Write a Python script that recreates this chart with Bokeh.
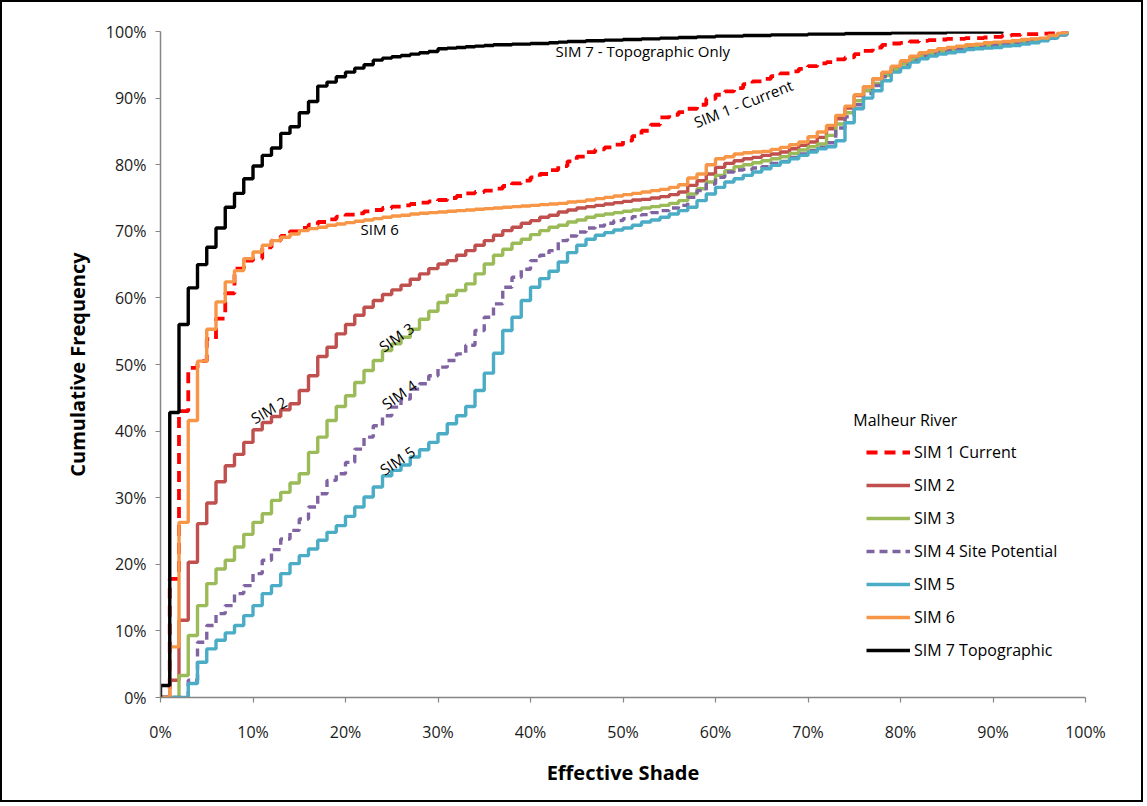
from bokeh.plotting import figure
from bokeh.models import Legend, LegendItem, Label, FixedTicker, Range1d
from bokeh.embed import file_html
from bokeh.resources import INLINE

# ---------------- data (effective shade in %, cumulative frequency in %) ----------------
shade_steps = list(range(0, 99))  # step positions 0%..98%

sim1_current = [0, 17.8, 43.0, 49.5, 50.5, 53.8, 56.9, 60.7, 64.4, 65.6,
                65.9, 67.6, 68.6, 69.3, 70.0, 70.5, 71.0, 71.4, 71.8, 72.2,
                72.5, 72.7, 73.0, 73.2, 73.5, 73.7, 73.9, 74.1, 74.3, 74.5,
                74.7, 75.0, 75.3, 75.7, 75.9, 76.1, 76.4, 76.8, 77.2, 77.6,
                78.1, 78.6, 79.2, 79.8, 80.5, 81.2, 81.9, 82.3, 82.6, 83.0,
                83.6, 84.3, 85.1, 86.0, 87.1, 87.5, 87.9, 88.4, 89.0, 89.9,
                90.5, 91.0, 91.5, 92.1, 92.5, 92.9, 93.3, 93.7, 94.0, 94.4,
                94.8, 95.2, 95.4, 95.8, 96.1, 96.6, 97.1, 97.6, 98.0, 98.2,
                98.3, 98.5, 98.6, 98.7, 98.8, 98.9, 98.9, 99.0, 99.0, 99.1,
                99.2, 99.4, 99.5, 99.6, 99.6, 99.7, 99.8, 99.9, 100]

sim2 = [0, 2.6, 11.6, 20.3, 26.1, 29.2, 32.4, 34.8, 36.5, 38.3,
        40.2, 41.3, 42.2, 43.2, 44.1, 46.1, 48.3, 51.2, 52.6, 54.6,
        56.0, 57.4, 58.6, 59.6, 60.5, 61.2, 61.9, 62.8, 63.6, 64.4,
        65.1, 65.6, 66.4, 67.1, 67.9, 68.6, 69.4, 70.1, 70.6, 71.2,
        71.6, 72.1, 72.4, 72.9, 73.2, 73.5, 73.7, 73.9, 74.1, 74.3,
        74.5, 74.7, 74.8, 75.0, 75.2, 75.5, 75.9, 76.9, 77.6, 78.6,
        79.6, 80.2, 80.6, 80.9, 81.1, 81.4, 81.6, 81.9, 82.4, 82.9,
        83.4, 84.1, 85.4, 86.9, 88.5, 90.4, 91.7, 92.9, 93.8, 94.6,
        95.4, 96.1, 96.6, 96.9, 97.2, 97.4, 97.6, 97.8, 97.9, 98.1,
        98.2, 98.3, 98.5, 98.6, 98.8, 98.9, 99.2, 99.6, 100]

sim3 = [0, 0, 3.3, 9.3, 13.8, 17.1, 19.3, 20.6, 22.6, 24.5,
        26.3, 27.6, 29.6, 30.8, 32.2, 33.6, 36.8, 39.1, 41.6, 43.7,
        45.3, 47.3, 49.1, 50.6, 52.1, 53.1, 54.1, 55.3, 56.8, 58.0,
        59.3, 60.4, 61.1, 62.1, 63.6, 65.1, 66.4, 67.3, 68.2, 68.8,
        69.5, 70.1, 70.6, 70.9, 71.4, 71.7, 72.1, 72.4, 72.6, 72.8,
        73.0, 73.2, 73.5, 73.7, 73.9, 74.2, 74.6, 75.6, 76.4, 77.4,
        78.4, 79.1, 79.7, 80.0, 80.3, 80.6, 80.9, 81.2, 81.7, 82.2,
        82.7, 83.1, 84.4, 86.1, 87.8, 89.6, 91.1, 92.2, 93.4, 94.3,
        95.1, 95.8, 96.3, 96.7, 97.0, 97.2, 97.4, 97.6, 97.7, 97.9,
        98.0, 98.2, 98.3, 98.5, 98.6, 98.8, 99.1, 99.5, 100]

sim4_site_potential = [0, 0, 0, 2.6, 8.3, 10.8, 12.6, 13.8, 15.6, 16.8,
                       18.6, 20.6, 22.2, 23.8, 25.1, 26.8, 28.6, 30.6, 32.6, 33.6,
                       35.3, 37.3, 39.1, 40.8, 42.3, 43.6, 44.8, 46.3, 47.1, 48.3,
                       49.6, 50.6, 51.6, 52.9, 55.1, 57.1, 59.1, 61.6, 63.1, 64.3,
                       65.6, 66.4, 67.1, 68.6, 69.3, 69.9, 70.5, 70.8, 71.2, 71.6,
                       71.9, 72.2, 72.5, 72.8, 73.1, 73.5, 73.9, 75.1, 76.1, 77.1,
                       78.1, 78.9, 79.2, 79.3, 79.5, 79.7, 80.2, 80.5, 81.1, 81.6,
                       82.1, 82.6, 83.3, 85.5, 87.2, 89.0, 90.7, 91.9, 93.2, 94.1,
                       94.9, 95.6, 96.2, 96.6, 96.9, 97.1, 97.3, 97.4, 97.6, 97.8,
                       97.9, 98.1, 98.2, 98.4, 98.5, 98.7, 99.0, 99.5, 100]

sim5 = [0, 0, 0, 2.1, 5.3, 7.3, 8.6, 9.7, 10.8, 12.3,
        13.8, 15.6, 16.8, 18.6, 20.1, 21.3, 22.3, 23.6, 24.8, 25.8,
        27.2, 28.6, 30.1, 31.6, 33.3, 34.1, 34.9, 36.1, 37.2, 38.3,
        39.6, 41.1, 42.3, 43.7, 46.1, 48.7, 51.7, 55.1, 57.1, 59.6,
        61.6, 62.9, 64.0, 65.4, 66.8, 67.9, 68.8, 69.4, 69.8, 70.2,
        70.5, 70.9, 71.4, 71.7, 72.1, 72.6, 73.1, 73.6, 74.6, 75.6,
        76.6, 77.4, 77.9, 78.4, 78.9, 79.4, 79.9, 80.4, 80.9, 81.4,
        81.9, 82.4, 82.7, 83.6, 86.3, 88.4, 90.0, 91.1, 92.6, 93.9,
        94.6, 95.4, 95.9, 96.3, 96.6, 96.8, 97.0, 97.3, 97.4, 97.5,
        97.6, 97.8, 97.9, 98.1, 98.3, 98.6, 99.0, 99.5, 100]

sim6 = [0, 7.6, 26.3, 41.6, 50.5, 55.3, 59.4, 62.4, 64.1, 65.9,
        66.9, 67.9, 68.6, 69.1, 69.6, 70.1, 70.4, 70.6, 70.9, 71.1,
        71.3, 71.5, 71.7, 71.9, 72.1, 72.3, 72.4, 72.6, 72.7, 72.8,
        72.9, 73.0, 73.1, 73.2, 73.3, 73.4, 73.5, 73.6, 73.7, 73.8,
        73.9, 74.0, 74.1, 74.2, 74.4, 74.5, 74.7, 74.9, 75.1, 75.3,
        75.5, 75.7, 75.9, 76.1, 76.3, 76.6, 77.0, 78.0, 78.6, 80.0,
        80.9, 81.2, 81.6, 81.8, 81.9, 82.0, 82.3, 82.6, 83.0, 83.4,
        84.2, 84.9, 85.9, 87.4, 88.8, 90.5, 91.7, 92.9, 93.9, 94.8,
        95.6, 96.3, 96.8, 97.1, 97.4, 97.6, 97.8, 98.0, 98.1, 98.3,
        98.4, 98.5, 98.6, 98.8, 98.9, 99.0, 99.4, 99.8, 100]

sim7_steps = [0] + list(range(0, 92))  # starts with a rise at 0%
sim7_topographic = [0, 1.8, 42.8, 56.0, 61.5, 65.0, 67.6, 70.5, 73.6, 75.7, 77.9,
                    79.8, 81.4, 82.5, 84.7, 85.7, 87.8, 89.5, 91.8, 92.4, 93.2,
                    93.9, 94.5, 95.0, 95.7, 96.0, 96.2, 96.4, 96.6, 96.8, 97.0,
                    97.4, 97.5, 97.6, 97.7, 97.8, 97.9, 98.0, 98.0, 98.1, 98.1,
                    98.2, 98.2, 98.3, 98.4, 98.5, 98.5, 98.6, 98.6, 98.7, 98.7,
                    98.8, 98.8, 98.9, 98.9, 99.0, 99.0, 99.1, 99.1, 99.2, 99.2,
                    99.3, 99.3, 99.3, 99.4, 99.4, 99.4, 99.5, 99.5, 99.5, 99.5,
                    99.6, 99.6, 99.6, 99.6, 99.7, 99.7, 99.7, 99.7, 99.7, 99.8,
                    99.8, 99.8, 99.8, 99.8, 99.8, 99.9, 99.9, 99.9, 99.9, 99.9,
                    99.9, 100]

series_names = ["SIM 1 Current", "SIM 2", "SIM 3", "SIM 4 Site Potential",
                "SIM 5", "SIM 6", "SIM 7 Topographic"]
tick_values = [0, 10, 20, 30, 40, 50, 60, 70, 80, 90, 100]
tick_labels = ["0%", "10%", "20%", "30%", "40%", "50%", "60%", "70%", "80%", "90%", "100%"]

FONT = "Open Sans"

p = figure(width=1143, height=802, x_range=Range1d(0, 100), y_range=Range1d(0, 100),
           output_backend="svg", toolbar_location=None,
           min_border_left=158, min_border_right=60, min_border_top=29, min_border_bottom=107)
p.styles = {"border": "2px solid black"}
p.background_fill_color = "white"
p.border_fill_color = "white"
p.outline_line_color = None
p.xgrid.visible = False
p.ygrid.visible = False

for ax in (p.xaxis, p.yaxis):
    ax.ticker = FixedTicker(ticks=tick_values)
    ax.major_label_overrides = {v: l for v, l in zip(tick_values, tick_labels)}
    ax.axis_line_color = "#868686"
    ax.axis_line_width = 1.5
    ax.major_tick_line_color = "#868686"
    ax.major_tick_line_width = 1.2
    ax.major_tick_out = 5
    ax.major_tick_in = 0
    ax.minor_tick_line_color = None
    ax.major_label_text_font = FONT
    ax.major_label_text_font_size = "16px"
    ax.major_label_text_color = "#1a1a1a"
    ax.axis_label_text_font = FONT
    ax.axis_label_text_font_style = "bold"
    ax.axis_label_text_font_size = "20px"
    ax.axis_label_text_color = "black"

p.xaxis.axis_label = "Effective Shade"
p.yaxis.axis_label = "Cumulative Frequency"
p.xaxis.major_label_standoff = 18
p.xaxis.axis_label_standoff = 13
p.yaxis.major_label_standoff = 9
p.yaxis.axis_label_standoff = 12

styles = [
    dict(color="#FF0000", width=3.8, dash="11 7"),
    dict(color="#C0504D", width=3.4, dash="solid"),
    dict(color="#9BBB59", width=3.4, dash="solid"),
    dict(color="#8064A2", width=3.4, dash="8 5"),
    dict(color="#4BACC6", width=3.4, dash="solid"),
    dict(color="#F79646", width=3.4, dash="solid"),
    dict(color="#000000", width=3.4, dash="solid"),
]
xs_all = [shade_steps] * 6 + [sim7_steps]
ys_all = [sim1_current, sim2, sim3, sim4_site_potential, sim5, sim6, sim7_topographic]

renderers = []
for xs, ys, st in zip(xs_all, ys_all, styles):
    r = p.step(xs, ys, mode="after", line_color=st["color"], line_width=st["width"],
               line_dash=st["dash"])
    renderers.append(r)

legend = Legend(items=[LegendItem(label=n, renderers=[r]) for n, r in zip(series_names, renderers)],
                location=(706, 36), orientation="vertical",
                glyph_width=44, glyph_height=20, label_height=20, label_standoff=4,
                spacing=11, padding=0, margin=0,
                border_line_alpha=0, background_fill_alpha=0,
                label_text_font=FONT, label_text_font_size="16px", label_text_color="black")
p.add_layout(legend)

p.add_layout(Label(x=74.9, y=41.6, text="Malheur River", text_font=FONT, text_font_size="16px",
                   text_baseline="middle", text_align="left", text_color="black"))

annotations = [
    ("SIM 7 - Topographic Only", 42.7, 97.1, 0, "left"),
    ("SIM 1 - Current", 63.0, 89.2, 21.6, "center"),
    ("SIM 6", 23.7, 70.4, 0, "center"),
    ("SIM 2", 11.7, 43.2, 30, "center"),
    ("SIM 3", 25.5, 54.1, 35, "center"),
    ("SIM 4", 25.8, 45.5, 35, "center"),
    ("SIM 5", 25.6, 35.6, 34, "center"),
]
for txt, x, y, ang, al in annotations:
    p.add_layout(Label(x=x, y=y, text=txt, angle=ang, angle_units="deg",
                       text_font=FONT, text_font_size="15px", text_align=al,
                       text_baseline="middle", text_color="black"))

open("out.html", "w").write(file_html(p, INLINE))
